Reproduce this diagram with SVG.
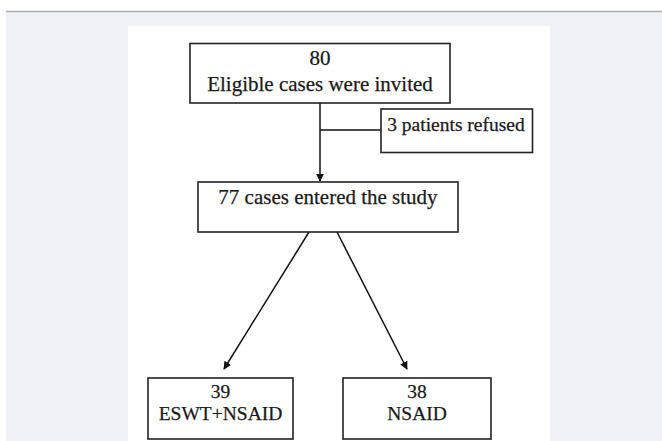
<svg xmlns="http://www.w3.org/2000/svg" width="662" height="441" viewBox="0 0 662 441">
<defs>
<marker id="ah" viewBox="0 0 10 10" refX="9" refY="5" markerWidth="8" markerHeight="8" markerUnits="userSpaceOnUse" orient="auto">
<path d="M0,0 L10,5 L0,10 z" fill="#111"/>
</marker>
<style>
.box{fill:#fff;stroke:#222;stroke-width:1.6}
.t{font-family:"Liberation Serif","Times New Roman",serif;font-size:21px;fill:#1a1a1a;stroke:#1a1a1a;stroke-width:0.25;text-anchor:middle}
.s{font-size:19.5px}
.c{stroke:#111;stroke-width:1.5;fill:none}
</style>
</defs>
<rect x="0" y="0" width="662" height="441" fill="#fff"/>
<rect x="6" y="12" width="656" height="429" fill="#f1f2f7"/>
<line x1="6" y1="11.5" x2="662" y2="11.5" stroke="#aaa" stroke-width="1.5"/>
<rect x="128" y="26" width="422" height="415" fill="#fff"/>
<g id="connectors">
<line class="c" x1="320" y1="103" x2="320" y2="181" marker-end="url(#ah)"/>
<line class="c" x1="320" y1="130" x2="381" y2="130"/>
<line class="c" x1="309" y1="232" x2="224" y2="369" marker-end="url(#ah)"/>
<line class="c" x1="337" y1="232" x2="407" y2="369" marker-end="url(#ah)"/>
</g>
<g id="n1">
<rect class="box" x="190" y="43.5" width="260" height="59.5"/>
<text class="t" x="320" y="65">80</text>
<text class="t" x="320" y="91">Eligible cases were invited</text>
</g>
<g id="n2">
<rect class="box" x="381" y="109" width="151.5" height="43.5"/>
<text class="t s" x="456" y="131">3 patients refused</text>
</g>
<g id="n3">
<rect class="box" x="198" y="182" width="260" height="50"/>
<text class="t" x="328" y="204">77 cases entered the study</text>
</g>
<g id="n4">
<rect class="box" x="148" y="378" width="145" height="61"/>
<text class="t s" x="220.5" y="398">39</text>
<text class="t s" x="220.5" y="420">ESWT+NSAID</text>
</g>
<g id="n5">
<rect class="box" x="343" y="378" width="148" height="61"/>
<text class="t s" x="417" y="398">38</text>
<text class="t s" x="417" y="420">NSAID</text>
</g>
</svg>
